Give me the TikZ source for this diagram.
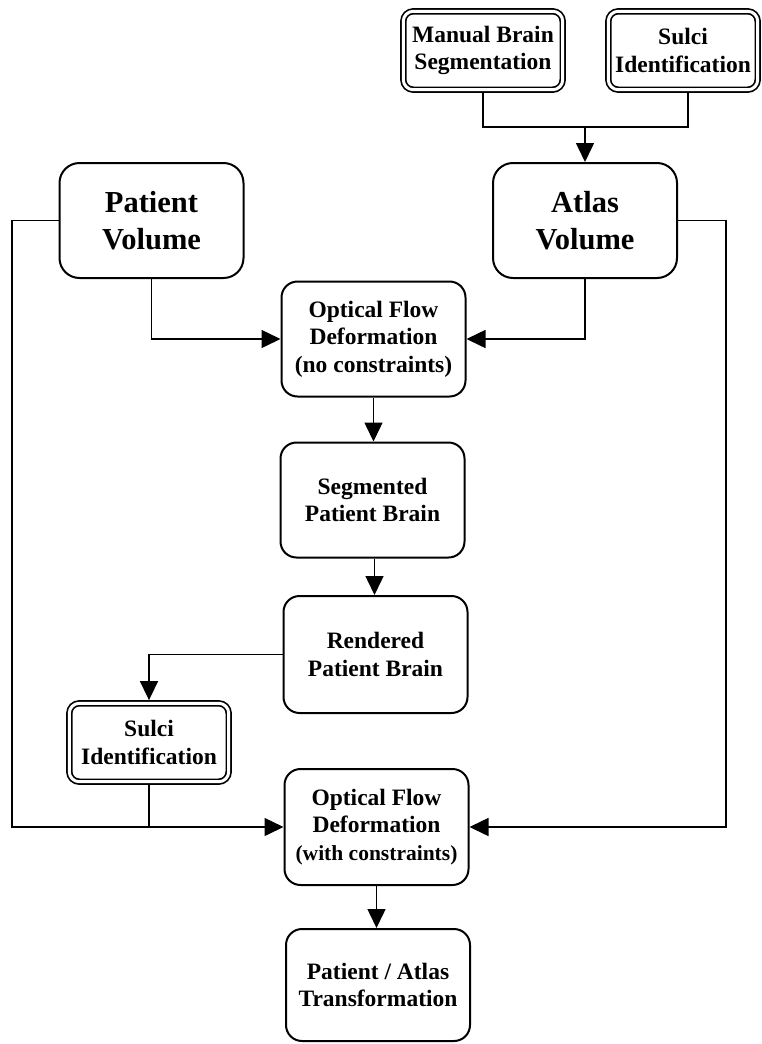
\documentclass[tikz,border=0pt]{standalone}
\usepackage{fontspec}
\setmainfont{Liberation Serif}
\usetikzlibrary{arrows.meta}

\begin{document}
\begin{tikzpicture}
[x=1pt, y=-1pt, line width=1.5pt,
font=\bfseries\fontsize{23.5}{27.5}\selectfont,
stage/.style={draw, line width=2pt, rounded corners=16pt, align=center,
    inner sep=0pt, minimum width=184pt, minimum height=115pt},
volume/.style={stage, rounded corners=20pt,
    font=\bfseries\fontsize{30.5}{37}\selectfont},
manual/.style={draw, line width=1.7pt, double=white, double distance=3pt,
    rounded corners=10pt, align=center, inner sep=0pt, outer sep=3.2pt,
    minimum height=78.4pt},
flow/.style={-{Triangle[length=19pt,width=18pt]}}]

\useasboundingbox (0,0) rectangle (762,1044);

% manual inputs
\node[manual, minimum width=159.4pt] (manseg) at (483,50.5) {Manual Brain\\Segmentation};
\node[manual, minimum width=149.4pt] (sulT) at (683,50.5) {Sulci\\Identification};

% volumes
\node[volume] (patient) at (151.5,220.5) {Patient\\Volume};
\node[volume] (atlas) at (585,220.5) {Atlas\\Volume};

% main chain
\node[stage] (of1) at (373.5,339) {Optical Flow\\Deformation\\(no constraints)};
\node[stage] (seg) at (372.5,500) {Segmented\\Patient Brain};
\node[stage, minimum height=117pt] (rend) at (375.5,654.5) {Rendered\\Patient Brain};
\node[manual, minimum width=159.4pt] (sulB) at (149,742.5) {Sulci\\Identification};
\node[stage, minimum height=116pt] (of2) at (376.5,827)
    {Optical Flow\\Deformation\\{\fontsize{21.5}{27.5}\selectfont(with constraints)}};
\node[stage, minimum height=112pt] (pat) at (378,985) {Patient / Atlas\\Transformation};

\coordinate (jT) at (585,127);
\coordinate (lbus) at (12,827);
\coordinate (rbus) at (726,827);

\draw (manseg.south) |- (jT);
\draw ([xshift=5pt]sulT.south) |- (jT);
\draw[flow] (jT) -- (atlas.north);

\draw[flow] (patient.south) |- (of1.west);
\draw[flow] (atlas.south) |- (of1.east);
\draw[flow] (patient.west) -| (lbus) -- (of2.west);
\draw[flow] (atlas.east) -| (rbus) -- (of2.east);

\draw[flow] (of1.south) -- (of1.south |- seg.north);
\draw[flow] ([xshift=2pt]seg.south) -- ([xshift=2pt]seg.south |- rend.north);
\draw[flow] (rend.west) -| (sulB.north);
\draw (sulB.south) -- (sulB.south |- lbus);
\draw[flow] (of2.south) -- (of2.south |- pat.north);

\end{tikzpicture}
\end{document}
